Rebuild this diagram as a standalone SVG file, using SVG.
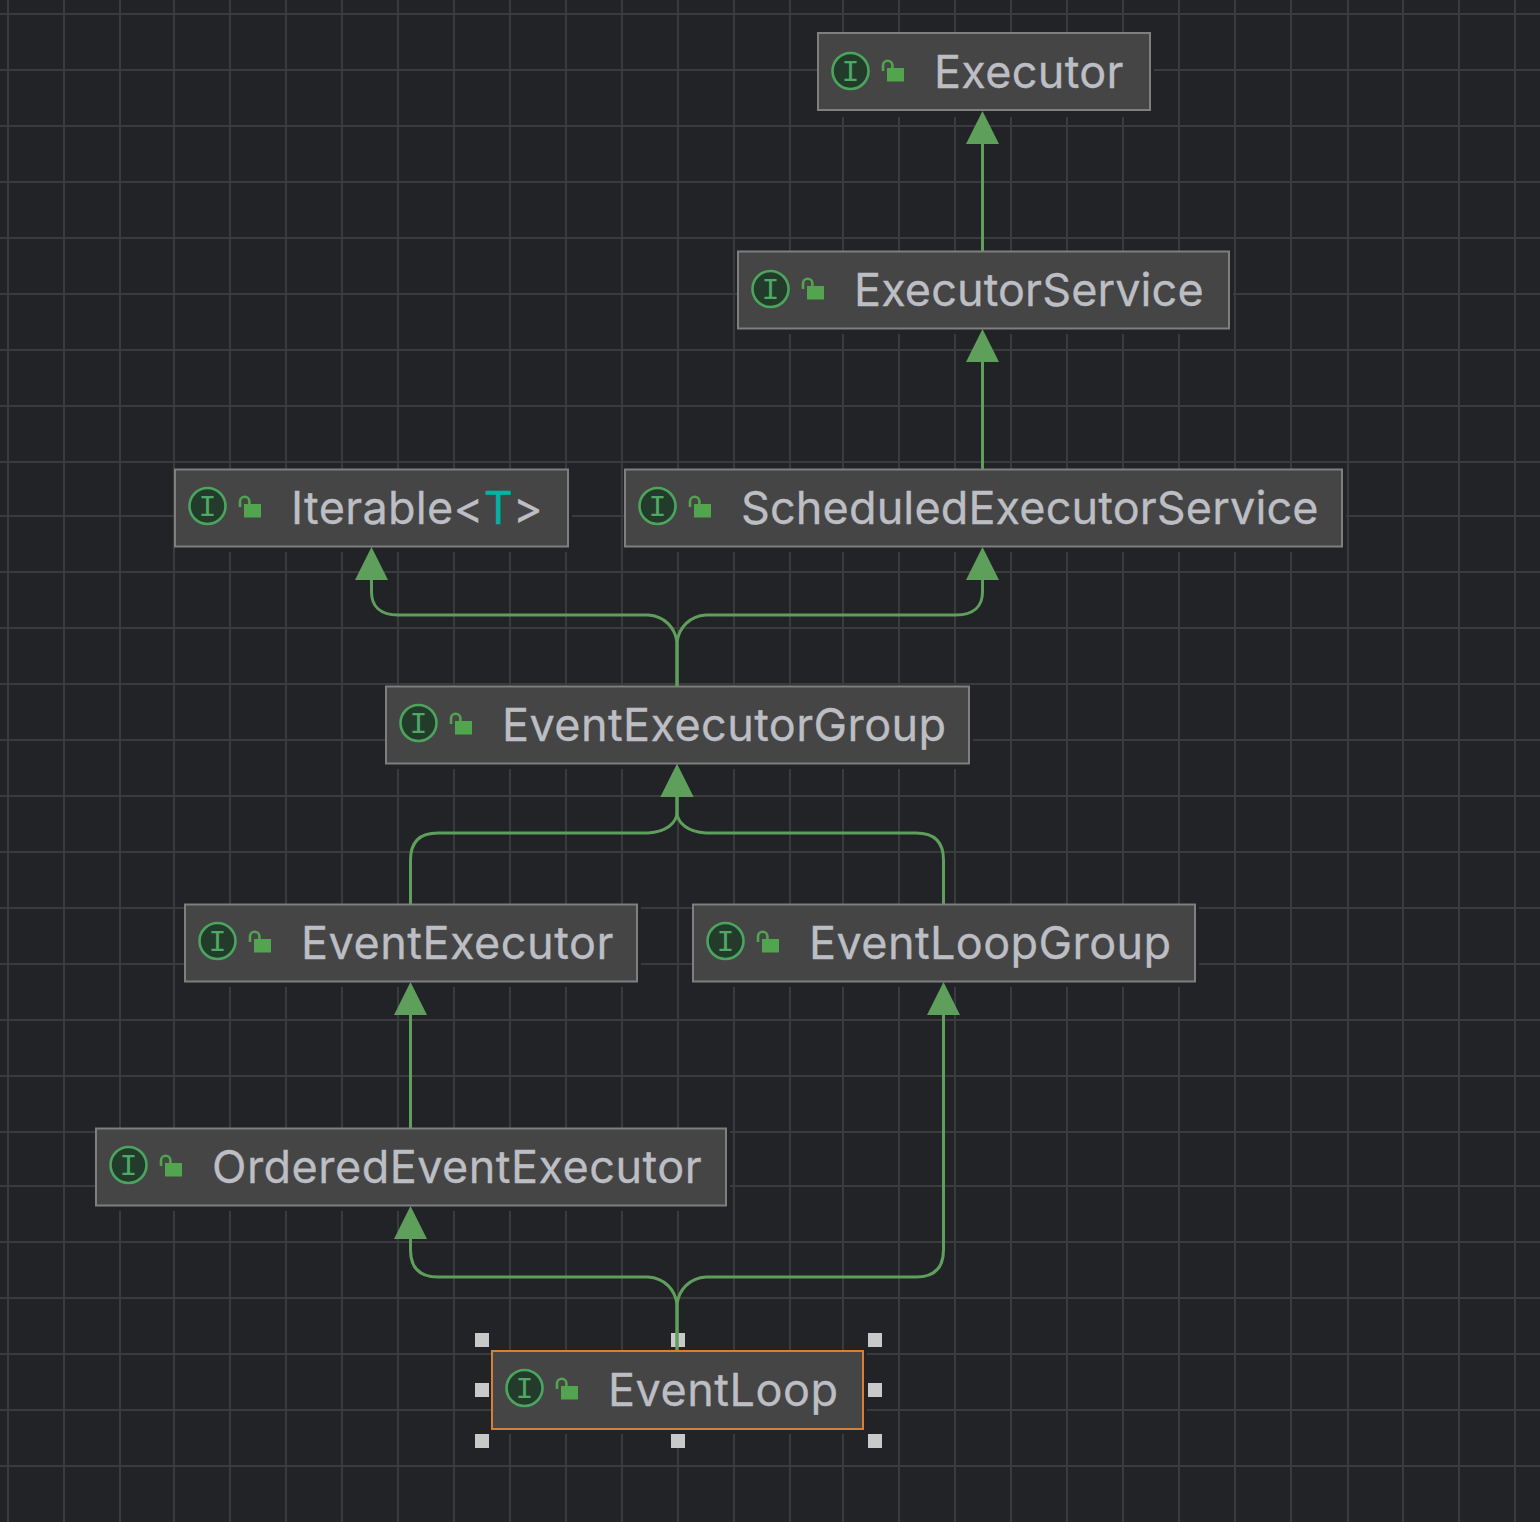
<svg xmlns="http://www.w3.org/2000/svg" width="1540" height="1522" viewBox="0 0 1540 1522">
<style>
.bg{fill:#212327}
.grid{fill:none;stroke:#3a3b3c;stroke-width:2}
.halo{fill:#212327}
.box{fill:#454545;stroke:#7f7f7f;stroke-width:2}
.sel{fill:#454545;stroke:#d57f37;stroke-width:2}
.ic{fill:#233b2b;stroke:#4ca55f;stroke-width:2.6}
.lt{font-family:"Liberation Mono",monospace;font-size:30px;fill:#4fa863;text-anchor:middle}
.lock{fill:#52a44f}
.sh{fill:none;stroke:#52a44f;stroke-width:2.6}
.lbl{font-family:Inter,"Liberation Sans",sans-serif;font-size:45px;fill:#bcbec4;stroke:#bcbec4;stroke-width:.3}
.tp{fill:#00b3a4;stroke:#00b3a4}
.edge{fill:none;stroke:#5f9f5c;stroke-width:3}
.head{fill:#5f9f5c}
.hd{fill:#c9c9c9}
</style>
<defs>
<g id="lk"><rect class="lock" x="69" y="35" width="17" height="13.5"/><path class="sh" d="M65 38V32.5A4.7 4.7 0 0 1 74.4 32.5V35"/></g>
<path id="ah" class="head" d="M0 0L16.5 33H-16.5Z"/>
</defs>
<rect class="bg" width="1540" height="1522"/>
<path class="grid" d="M8 0V1522M64 0V1522M120 0V1522M174 0V1522M230 0V1522M286 0V1522M342 0V1522M398 0V1522M454 0V1522M510 0V1522M566 0V1522M622 0V1522M678 0V1522M734 0V1522M790 0V1522M843 0V1522M899 0V1522M955 0V1522M1011 0V1522M1067 0V1522M1123 0V1522M1179 0V1522M1235 0V1522M1291 0V1522M1348 0V1522M1403 0V1522M1459 0V1522M1515 0V1522M0 14H1540M0 70H1540M0 126H1540M0 182H1540M0 238H1540M0 294H1540M0 350H1540M0 406H1540M0 462H1540M0 516H1540M0 572H1540M0 628H1540M0 684H1540M0 740H1540M0 796H1540M0 852H1540M0 908H1540M0 964H1540M0 1020H1540M0 1076H1540M0 1132H1540M0 1186H1540M0 1242H1540M0 1298H1540M0 1354H1540M0 1410H1540M0 1466H1540"/>
<g id="halos">
<rect class="halo" x="818" y="32" width="336" height="85"/>
<rect class="halo" x="738" y="251" width="495" height="83"/>
<rect class="halo" x="175" y="469" width="397" height="83"/>
<rect class="halo" x="625" y="469" width="721" height="83"/>
<rect class="halo" x="386" y="686" width="587" height="83"/>
<rect class="halo" x="185" y="904" width="456" height="83"/>
<rect class="halo" x="693" y="904" width="506" height="83"/>
<rect class="halo" x="96" y="1128" width="634" height="83"/>
<rect class="halo" x="492" y="1351" width="375" height="83"/>
</g>
<g id="handles">
<rect class="hd" x="475" y="1333" width="14" height="14"/><rect class="hd" x="671" y="1333" width="14" height="14"/><rect class="hd" x="868" y="1333" width="14" height="14"/>
<rect class="hd" x="475" y="1383" width="14" height="14"/><rect class="hd" x="868" y="1383" width="14" height="14"/>
<rect class="hd" x="475" y="1434" width="14" height="14"/><rect class="hd" x="671" y="1434" width="14" height="14"/><rect class="hd" x="868" y="1434" width="14" height="14"/>
</g>
<g id="connectors">
<path class="edge" d="M982.5 251V140"/><use href="#ah" x="982.5" y="111"/>
<path class="edge" d="M982.5 469V358"/><use href="#ah" x="982.5" y="329"/>
<path class="edge" d="M677 686V642C675 628 665 616 648 615H398C380 615 371.5 606 371.5 592V576"/><use href="#ah" x="371.5" y="547"/>
<path class="edge" d="M677 686V642C679 628 689 616 706 615H956C974 615 982.5 606 982.5 592V576"/><use href="#ah" x="982.5" y="547"/>
<path class="edge" d="M410.5 904V860C410.5 842 420 833 438 833H648C666 832 677 823 677 812V793"/><use href="#ah" x="677" y="764"/>
<path class="edge" d="M943.5 904V860C943.5 842 934 833 916 833H706C688 832 677 823 677 812V793"/><use href="#ah" x="677" y="764"/>
<path class="edge" d="M410.5 1128V1011"/><use href="#ah" x="410.5" y="982"/>
<path class="edge" d="M677 1351V1304C675 1290 665 1278 648 1277H438C420 1277 410.5 1268 410.5 1250V1235"/><use href="#ah" x="410.5" y="1206"/>
<path class="edge" d="M677 1351V1304C679 1290 689 1278 706 1277H916C934 1277 943.5 1268 943.5 1250V1011"/><use href="#ah" x="943.5" y="982"/>
</g>
<g id="Executor" transform="translate(818 32)"><rect class="box" y="1" width="332" height="77"/><circle class="ic" cx="32.5" cy="39" r="18"/><text class="lt" x="32.5" y="49">I</text><use href="#lk" y="1"/><text class="lbl" x="116" y="56" letter-spacing=".3">Executor</text></g>
<g id="ExecutorService" transform="translate(738 251)"><rect class="box" y=".5" width="491" height="77"/><circle class="ic" cx="32.5" cy="38" r="18"/><text class="lt" x="32.5" y="48">I</text><use href="#lk"/><text class="lbl" x="116" y="55" letter-spacing=".1">ExecutorService</text></g>
<g id="Iterable" transform="translate(175 469)"><rect class="box" y=".5" width="393" height="77"/><circle class="ic" cx="32.5" cy="37" r="18"/><text class="lt" x="32.5" y="47">I</text><use href="#lk"/><text class="lbl" x="116" y="55" letter-spacing=".3">Iterable&lt;<tspan class="tp">T</tspan>&gt;</text></g>
<g id="ScheduledExecutorService" transform="translate(625 469)"><rect class="box" y=".5" width="717" height="77"/><circle class="ic" cx="32.5" cy="37" r="18"/><text class="lt" x="32.5" y="47">I</text><use href="#lk"/><text class="lbl" x="116" y="55" letter-spacing=".13">ScheduledExecutorService</text></g>
<g id="EventExecutorGroup" transform="translate(386 686)"><rect class="box" y=".5" width="583" height="77"/><circle class="ic" cx="32.5" cy="37" r="18"/><text class="lt" x="32.5" y="47">I</text><use href="#lk"/><text class="lbl" x="116" y="55" letter-spacing=".4">EventExecutorGroup</text></g>
<g id="EventExecutor" transform="translate(185 904)"><rect class="box" y=".5" width="452" height="77"/><circle class="ic" cx="32.5" cy="37" r="18"/><text class="lt" x="32.5" y="47">I</text><use href="#lk"/><text class="lbl" x="116" y="55" letter-spacing=".5">EventExecutor</text></g>
<g id="EventLoopGroup" transform="translate(693 904)"><rect class="box" y=".5" width="502" height="77"/><circle class="ic" cx="32.5" cy="37" r="18"/><text class="lt" x="32.5" y="47">I</text><use href="#lk"/><text class="lbl" x="116" y="55" letter-spacing=".4">EventLoopGroup</text></g>
<g id="OrderedEventExecutor" transform="translate(96 1128)"><rect class="box" y=".5" width="630" height="77"/><circle class="ic" cx="32.5" cy="37" r="18"/><text class="lt" x="32.5" y="47">I</text><use href="#lk"/><text class="lbl" x="116" y="55" letter-spacing=".47">OrderedEventExecutor</text></g>
<g id="EventLoop" transform="translate(492 1351)"><rect class="sel" width="371" height="78"/><circle class="ic" cx="32.5" cy="37" r="18"/><text class="lt" x="32.5" y="47">I</text><use href="#lk"/><text class="lbl" x="116" y="55" letter-spacing=".5">EventLoop</text></g>
</svg>
